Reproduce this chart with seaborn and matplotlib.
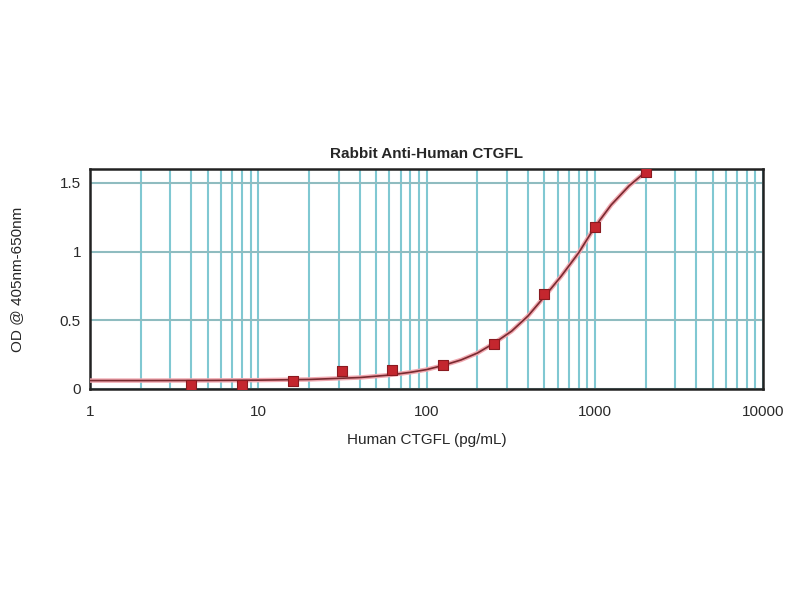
import numpy as np
import pandas as pd
import matplotlib
matplotlib.use("Agg")
import matplotlib.pyplot as plt
import matplotlib.ticker as mticker
import seaborn as sns

# measured standards
conc = [4, 8, 16, 31.25, 62.5, 125, 250, 500, 1000, 2000]
od = [0.03, 0.03, 0.057, 0.13, 0.14, 0.17, 0.33, 0.69, 1.18, 1.58]

# fitted curve
curve_x = [1, 2, 5, 10, 20, 40, 60, 80, 100, 125, 160, 200, 250, 320, 400,
           500, 630, 800, 1000, 1250, 1600, 2000]
curve_y = [0.06, 0.06, 0.061, 0.063, 0.068, 0.082, 0.10, 0.12, 0.14, 0.17,
           0.21, 0.26, 0.33, 0.42, 0.53, 0.67, 0.82, 0.99, 1.18, 1.34, 1.48, 1.58]

pts = pd.DataFrame({"conc": conc, "od": od})
fit = pd.DataFrame({"x": curve_x, "y": curve_y})

sns.set_style("white")
plt.rcParams["font.family"] = ["Liberation Sans", "DejaVu Sans"]

fig = plt.figure(figsize=(8, 6), dpi=100)
ax = fig.add_axes([0.1125, 0.352, 0.8415, 0.366])

sns.lineplot(data=fit, x="x", y="y", ax=ax, color="#f0a8b0", lw=3.2, zorder=3)
sns.lineplot(data=fit, x="x", y="y", ax=ax, color="#7a2a30", lw=1.2, zorder=4)
sns.scatterplot(data=pts, x="conc", y="od", ax=ax, marker="s", s=60,
                color="#c4262e", edgecolor="#8a1a20", linewidth=0.8, zorder=5)

ax.set_xscale("log")
ax.set_xlim(1, 10000)
ax.set_ylim(0, 1.6)
ax.xaxis.set_major_locator(mticker.LogLocator(base=10))
ax.xaxis.set_minor_locator(mticker.LogLocator(base=10, subs=np.arange(2, 10)))
ax.xaxis.set_major_formatter(mticker.FuncFormatter(lambda v, p: f"{v:g}"))
ax.xaxis.set_minor_formatter(mticker.NullFormatter())
ax.set_yticks([0, 0.5, 1, 1.5])
ax.set_yticklabels(["0", "0.5", "1", "1.5"])
ax.yaxis.set_minor_locator(mticker.MultipleLocator(0.1))

ax.grid(True, which="both", axis="x", color="#80c8d2", lw=1.5)
ax.grid(True, which="major", axis="y", color="#8fbcc0", lw=1.5)
ax.set_axisbelow(True)

for s in ax.spines.values():
    s.set_color("#222222")
    s.set_linewidth(1.8)

ax.tick_params(which="major", direction="out", length=3, width=1, colors="#333333",
               labelsize=11, labelcolor="#2a2a2a")
ax.tick_params(axis="x", which="major", pad=9)
ax.tick_params(which="minor", direction="in", length=3, width=1, colors="#333333")

ax.set_title("Rabbit Anti-Human CTGFL", fontsize=11, fontweight="bold", pad=8)
ax.set_xlabel("Human CTGFL (pg/mL)", fontsize=11, labelpad=10)
ax.set_ylabel("OD @ 405nm-650nm", fontsize=11, labelpad=26)

fig.savefig("out.png", dpi=100)
